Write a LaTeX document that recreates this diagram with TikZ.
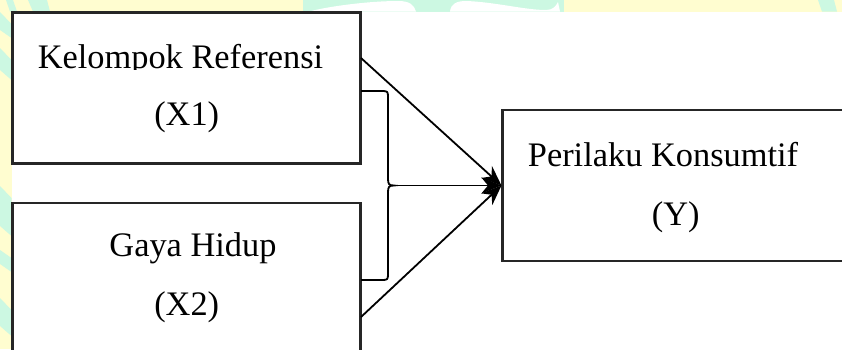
\documentclass[tikz,border=0pt]{standalone}
\usepackage{fontspec}
\setmainfont{Liberation Serif}
\usetikzlibrary{arrows.meta}
\definecolor{wmyellow}{RGB}{255,253,208}
\definecolor{wmmint}{RGB}{204,248,226}
\begin{document}
\begin{tikzpicture}[x=1bp,y=-1bp,
  box/.style={draw=black!85, line width=2.5bp, inner sep=0pt},
  label/.style={font=\fontsize{34.5}{41}\selectfont, inner sep=0pt, anchor=base},
  link/.style={draw=black, line width=1.8bp, -{Stealth[length=20bp,width=16bp]}},
  bracket/.style={draw=black, line width=1.8bp},
]
\useasboundingbox (0,0) rectangle (842,349);
\clip (0,0) rectangle (842,349);
\fill[white] (0,0) rectangle (842,349);

% pale watermark along the top and left edges
\fill[wmyellow] (0,0) rectangle (842,11.5);
\fill[wmyellow] (0,0) rectangle (11.5,349);
\fill[wmmint] (6,0) -- (13,0) -- (17,11.5) -- (10,11.5) -- cycle;
\fill[wmmint] (28,0) -- (47,0) -- (50,11.5) -- (33,11.5) -- cycle;
\fill[wmmint] (303,0) rectangle (564,11.5);
\fill[white] (309,11.5) .. controls (330,6) and (370,1) .. (398,1)
  .. controls (410,1) and (414,5) .. (416,11.5) -- cycle;
\fill[white] (450,11.5) .. controls (451,4) and (456,1) .. (466,1)
  .. controls (495,2) and (525,10) .. (546,10)
  .. controls (553,10) and (556,6) .. (558,2) -- (560,11.5) -- cycle;
\fill[wmmint] (818,0) -- (834,0) -- (837,11.5) -- (822,11.5) -- cycle;
\fill[wmmint] (0,12) -- (11.5,24) -- (11.5,38) -- (0,30) -- cycle;
\fill[wmmint] (0,48) -- (11.5,60) -- (11.5,80) -- (0,70) -- cycle;
\fill[wmmint] (0,186) -- (11.5,198) -- (11.5,236) -- (0,226) -- cycle;
\fill[wmmint] (0,250) -- (11.5,258) -- (11.5,272) -- (0,264) -- cycle;
\fill[wmmint] (0,298) -- (11.5,310) -- (11.5,336) -- (0,326) -- cycle;

% boxes
\node[box, fill=white, minimum width=348bp, minimum height=151bp] (x1) at (186.6,87.8) {};
\node[box, fill=white, minimum width=348bp, minimum height=197bp] (x2) at (186.6,301.5) {};
\node[box, fill=white, minimum width=397bp, minimum height=151bp] (y) at (701.2,185.5) {};

% box texts
\begin{scope}
  \clip (14,20) rectangle (359,69);
  \node[label] (t1) at (180.5,68.3) {Kelompok Referensi};
\end{scope}
\node[label] (t1b) at (186.7,125) {(X1)};
\node[label] (t2) at (193,256.7) {Gaya Hidup};
\node[label] (t2b) at (186.7,315) {(X2)};
\node[label] (t3) at (663,166.7) {Perilaku Konsumtif};
\node[label] (t3b) at (675.7,225) {(Y)};

% connectors
\coordinate (s1) at (361,58);
\coordinate (s2) at (361,317);
\coordinate (bt) at (361,91);
\coordinate (bb) at (361,280);
\coordinate (tip) at (394,185.5);
\draw[bracket] (bt) -- (383,91) .. controls (387,91) and (388,92) .. (388,96)
  -- (388,179) .. controls (388,184) and (389,185.5) .. (tip)
  .. controls (389,185.5) and (388,187) .. (388,192)
  -- (388,275) .. controls (388,279) and (387,280) .. (383,280) -- (bb);
\draw[link] (tip) -- (y.west);
\draw[link] (s1) -- (y.west);
\draw[link] (s2) -- (y.west);
\end{tikzpicture}
\end{document}
